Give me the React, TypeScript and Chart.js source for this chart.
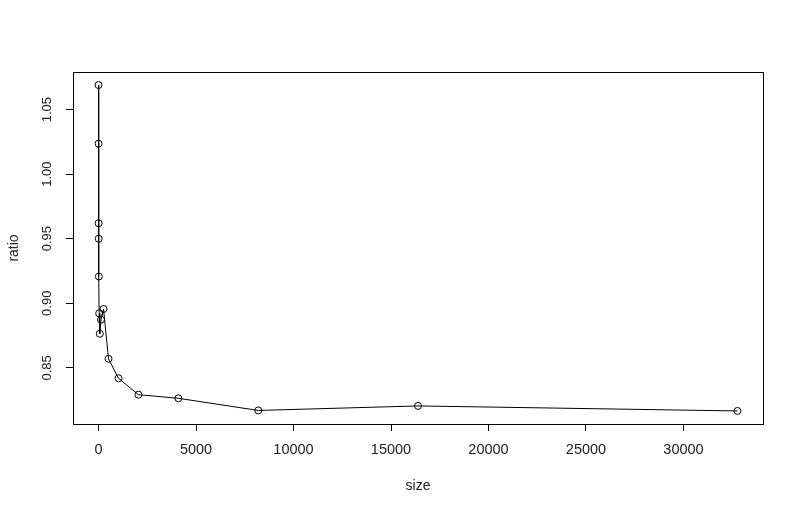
import { useEffect, useRef } from "react";
import { Chart, registerables } from "chart.js";

Chart.register(...registerables);

const sizes = [1, 2, 4, 8, 16, 32, 64, 128, 256, 512, 1024, 2048, 4096, 8192, 16384, 32768];
const ratios = [
  1.069, 1.0236, 0.962, 0.95, 0.9207, 0.8922, 0.8764, 0.8873, 0.8956, 0.857, 0.8419, 0.8292,
  0.8264, 0.817, 0.8205, 0.8166,
];
const xTicks = [0, 5000, 10000, 15000, 20000, 25000, 30000];
const yTicks = [0.85, 0.9, 0.95, 1.0, 1.05];

const FONT = "Arial, 'Liberation Sans', sans-serif";

// R-style range: data range stretched 4% on each side
function rRange(vals: number[]) {
  const lo = Math.min(...vals);
  const hi = Math.max(...vals);
  const pad = (hi - lo) * 0.04;
  return { min: lo - pad, max: hi + pad };
}

const boxPlugin = {
  id: "box",
  afterDraw(chart: Chart) {
    const { ctx, chartArea: a } = chart;
    ctx.save();
    ctx.strokeStyle = "#000";
    ctx.lineWidth = 1;
    ctx.strokeRect(Math.round(a.left) + 0.5, Math.round(a.top) + 0.5, Math.round(a.right - a.left), Math.round(a.bottom - a.top));
    ctx.restore();
  },
};

export default function App() {
  const ref = useRef<HTMLCanvasElement>(null);

  useEffect(() => {
    if (!ref.current) return;
    const xr = rRange(sizes);
    const yr = rRange(ratios);
    const chart = new Chart(ref.current, {
      type: "line",
      data: {
        datasets: [
          {
            data: sizes.map((s, i) => ({ x: s, y: ratios[i] })),
            borderColor: "#000",
            borderWidth: 1,
            pointRadius: 3.5,
            pointBorderWidth: 1,
            pointBorderColor: "#000",
            pointBackgroundColor: "rgba(0,0,0,0)",
            tension: 0,
            fill: false,
          },
        ],
      },
      options: {
        responsive: false,
        animation: false,
        layout: { padding: { top: 72, right: 37, left: 0, bottom: 0 } },
        plugins: { legend: { display: false }, tooltip: { enabled: false } },
        scales: {
          x: {
            type: "linear",
            min: xr.min,
            max: xr.max,
            afterBuildTicks: (s: any) => {
              s.ticks = xTicks.map((v) => ({ value: v }));
            },
            afterFit: (s: any) => {
              s.height = 89;
            },
            grid: { drawOnChartArea: false, drawTicks: true, tickLength: 7, color: "#000", lineWidth: 1 },
            border: { display: false },
            ticks: {
              color: "#222",
              font: { family: FONT, size: 14.5 },
              padding: 10,
              maxRotation: 0,
              autoSkip: false,
              callback: (v: any) => String(v),
            },
            title: { display: true, text: "size", color: "#222", font: { family: FONT, size: 14 }, padding: { top: 4, bottom: 18 } },
          },
          y: {
            type: "linear",
            min: yr.min,
            max: yr.max,
            afterBuildTicks: (s: any) => {
              s.ticks = yTicks.map((v) => ({ value: v }));
            },
            afterFit: (s: any) => {
              s.width = 73;
            },
            grid: { drawOnChartArea: false, drawTicks: true, tickLength: 7, color: "#000", lineWidth: 1 },
            border: { display: false },
            ticks: {
              color: "#222",
              font: { family: FONT, size: 13 },
              minRotation: 90,
              maxRotation: 90,
              crossAlign: "center",
              padding: 6,
              autoSkip: false,
              callback: (v: any) => Number(v).toFixed(2),
            },
            title: { display: true, text: "ratio", color: "#222", font: { family: FONT, size: 14 }, padding: { bottom: 0, top: 6 } },
          },
        },
      },
      plugins: [boxPlugin],
    });
    return () => chart.destroy();
  }, []);

  return (
    <div style={{ position: "fixed", left: 0, top: 0, width: 800, height: 513, background: "#fff" }}>
      <canvas ref={ref} width={800} height={513} style={{ width: 800, height: 513 }} />
    </div>
  );
}
